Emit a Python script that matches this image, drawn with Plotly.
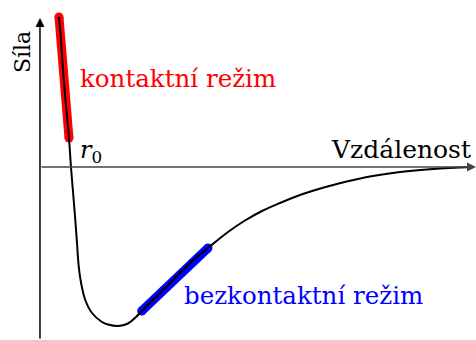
import plotly.graph_objects as go

# ── Data ───────────────────────────────────────────────────────────────
distance = [0.436, 0.482, 0.528, 0.596, 0.665, 0.711, 0.773, 0.810, 0.849, 0.888,
            0.947, 1.039, 1.193, 1.422, 1.560, 1.789, 2.018, 2.202, 2.333, 2.752,
            3.096, 3.440, 3.853, 4.312, 4.702, 5.092, 5.505, 5.963, 6.353, 6.812,
            7.500, 8.257, 9.014, 9.931]
force = [1.50, 1.27, 0.97, 0.62, 0.29, 0.00, -0.33, -0.53, -0.76, -0.99,
         -1.17, -1.33, -1.46, -1.55, -1.575, -1.59, -1.565, -1.50, -1.44, -1.26,
         -1.11, -0.96, -0.81, -0.65, -0.535, -0.44, -0.36, -0.28, -0.225, -0.17,
         -0.10, -0.05, -0.02, 0.00]

contact_x = [0.436, 0.482, 0.528, 0.596, 0.665]
contact_y = [1.50, 1.27, 0.97, 0.62, 0.29]

noncontact_x = [2.333, 2.752, 3.096, 3.440, 3.853]
noncontact_y = [-1.44, -1.26, -1.11, -0.96, -0.81]

# labels (precomposed accented letters)
LBL_FORCE = "S\u00edla"
LBL_DIST = "Vzd\u00e1lenost"
LBL_CONTACT = "kontaktn\u00ed re\u017eim"
LBL_NONCONTACT = "bezkontaktn\u00ed re\u017eim"

X_MAX, Y_MIN, Y_MAX = 10.0, -1.73, 1.49

SERIF = "DejaVu Serif"
RED = "#ff0000"
BLUE = "#0000ff"

fig = go.Figure()

# ── Highlighted regimes (thick, round-ended) ──────────────────────────
for xs, ys, col in [(contact_x, contact_y, RED), (noncontact_x, noncontact_y, BLUE)]:
    fig.add_trace(go.Scatter(x=xs, y=ys, mode="lines",
                             line=dict(color=col, width=9), showlegend=False))
    fig.add_trace(go.Scatter(x=[xs[0], xs[-1]], y=[ys[0], ys[-1]], mode="markers",
                             marker=dict(color=col, size=9), showlegend=False))

# ── Force curve ───────────────────────────────────────────────────────
fig.add_trace(go.Scatter(x=distance, y=force, mode="lines",
                         line=dict(color="black", width=2, shape="spline", smoothing=1.0),
                         showlegend=False))

# ── Axes with arrows ──────────────────────────────────────────────────
arrows = [
    dict(x=X_MAX, y=0, ax=0, ay=0, color="#444444"),
    dict(x=0, y=Y_MAX, ax=0, ay=Y_MIN, color="black"),
]
annotations = []
for a in arrows:
    annotations.append(dict(
        x=a["x"], y=a["y"], ax=a["ax"], ay=a["ay"],
        xref="x", yref="y", axref="x", ayref="y",
        text="", showarrow=True, arrowhead=2, arrowsize=1.2,
        arrowwidth=1.5, arrowcolor=a["color"],
    ))

# ── Labels ────────────────────────────────────────────────────────────
annotations += [
    dict(x=-0.41, y=1.15, text=LBL_FORCE, textangle=-90, showarrow=False,
         font=dict(family=SERIF, size=22, color="black")),
    dict(x=0.87, y=0.89, text=LBL_CONTACT, showarrow=False,
         xanchor="left", font=dict(family=SERIF, size=24.5, color=RED)),
    dict(x=3.25, y=-1.28, text=LBL_NONCONTACT, showarrow=False,
         xanchor="left", font=dict(family=SERIF, size=24.5, color=BLUE)),
    dict(x=9.93, y=0.18, text=LBL_DIST, showarrow=False,
         xanchor="right", font=dict(family=SERIF, size=25, color="black")),
    dict(x=0.87, y=0.16, text="<i>r</i><sub>0</sub>", showarrow=False,
         xanchor="left", font=dict(family=SERIF, size=24, color="black")),
]

fig.update_layout(
    width=476, height=340,
    margin=dict(l=0, r=0, t=0, b=0),
    paper_bgcolor="white", plot_bgcolor="white",
    font=dict(family=SERIF),
    annotations=annotations,
)
fig.update_xaxes(range=[-0.917, X_MAX], visible=False)
fig.update_yaxes(range=[Y_MIN, 1.67], visible=False)

fig.write_html("out.html", config={"displayModeBar": False},
               post_script="document.body.style.margin='0';")
